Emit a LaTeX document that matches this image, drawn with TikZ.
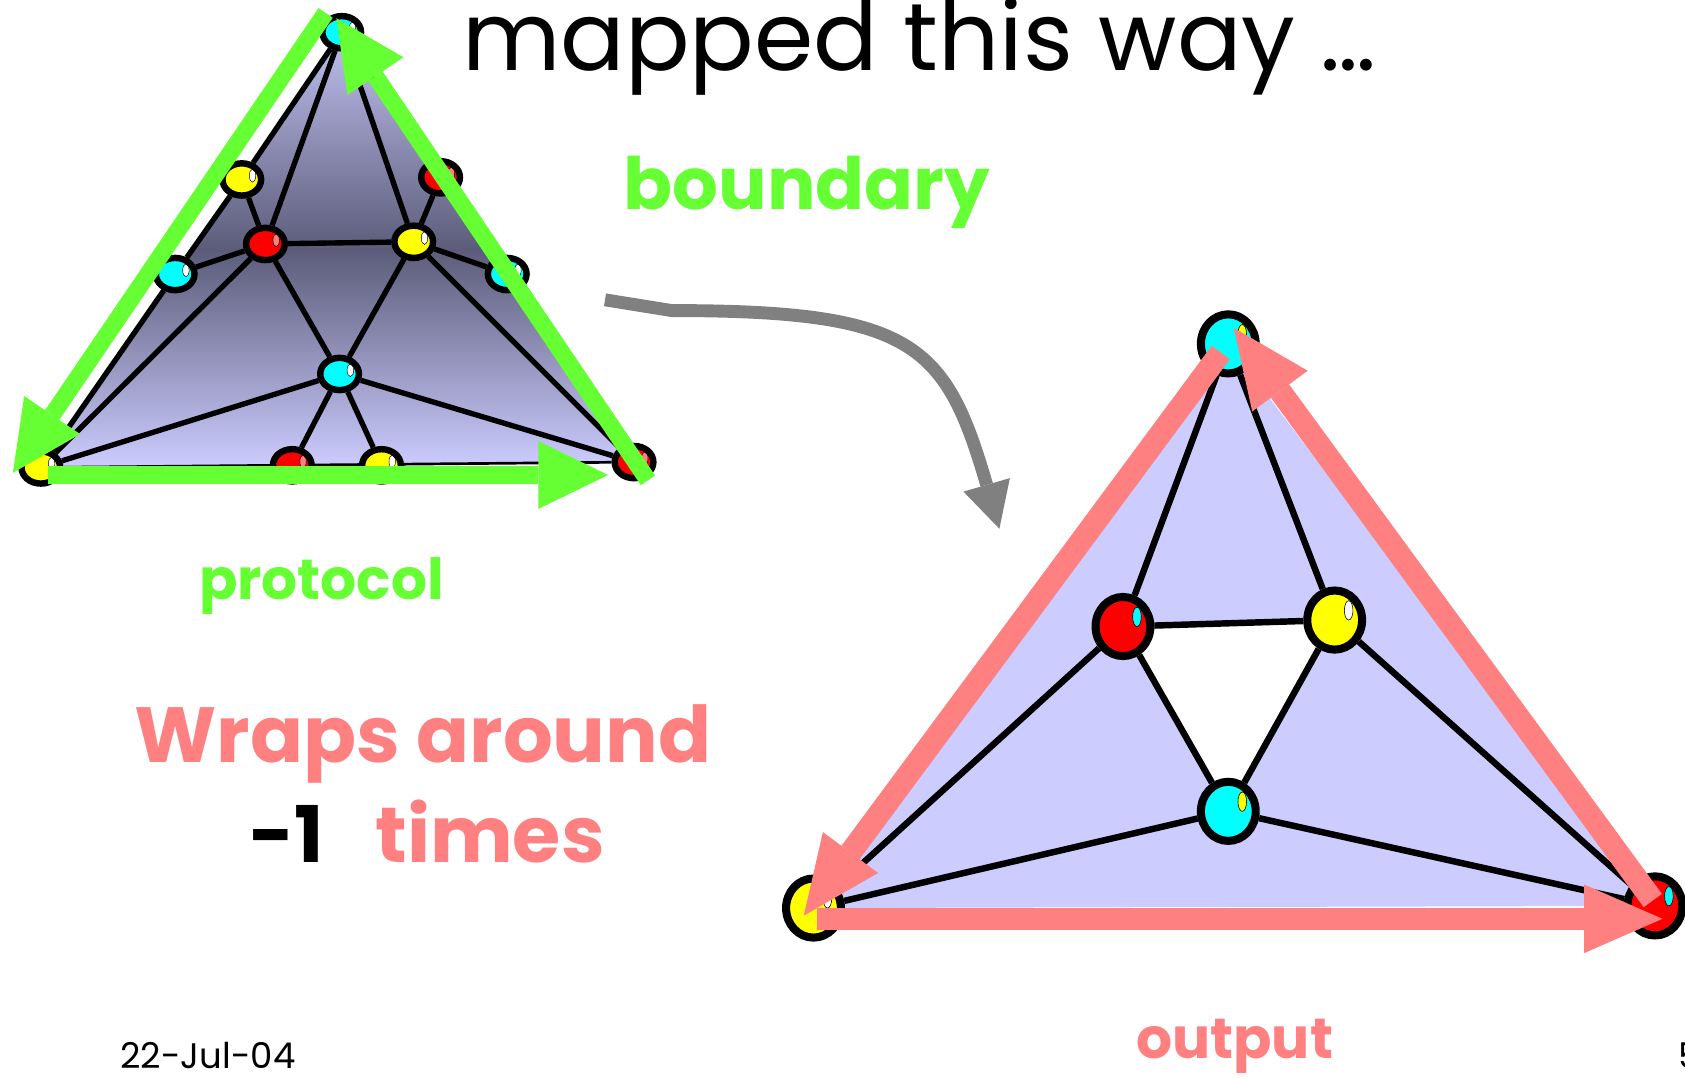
\documentclass[tikz,border=0pt]{standalone}
\usepackage{fontspec}
\setmainfont{Poppins}
\usetikzlibrary{shapes.geometric, arrows.meta, positioning, calc, backgrounds}
\definecolor{MapGreen}{RGB}{102,255,51}
\definecolor{MapPink}{RGB}{255,128,128}
\definecolor{MapLav}{RGB}{204,204,255}
\definecolor{MapLavTop}{RGB}{192,192,240}
\definecolor{MapSlate}{RGB}{92,92,122}
\definecolor{MapCyan}{RGB}{0,255,255}
\definecolor{MapYellow}{RGB}{255,255,0}
\definecolor{MapRed}{RGB}{255,0,0}
\definecolor{MapGray}{RGB}{128,128,128}

\begin{document}
\begin{tikzpicture}[
    x=0.2mm, y=-0.2mm,
    sball/.style 2 args={ellipse, draw=black, line width=1.2mm, fill=#1, minimum width=7.2mm, minimum height=6mm, inner sep=0pt,
      path picture={\draw[fill=#2, line width=0.25pt] ([xshift=2mm, yshift=0.7mm]path picture bounding box.center) ellipse [x radius=0.6mm, y radius=1.2mm];}},
    bball/.style 2 args={ellipse, draw=black, line width=1.5mm, fill=#1, minimum width=10.2mm, minimum height=11mm, inner sep=0pt,
      path picture={\draw[fill=#2, line width=0.3pt] ([xshift=2.6mm, yshift=1.8mm]path picture bounding box.center) ellipse [x radius=0.8mm, y radius=1.8mm];}},
    sedge/.style={draw=black, line width=1mm},
    bedge/.style={draw=black, line width=1.2mm},
    greenarrow/.style={-{Triangle[length=13mm, width=12.6mm, line width=0pt]}, draw=MapGreen, line width=3.2mm},
    pinkarrow/.style={-{Triangle[length=14.6mm, width=12.8mm, line width=0pt]}, draw=MapPink, line width=4.2mm},
    maparrow/.style={-{Triangle[length=8.5mm, width=9mm, line width=0pt]}, draw=MapGray, line width=2.4mm},
    headline/.style={font=\fontsize{50.6}{58}\selectfont, anchor=base west},
    bigword/.style={font=\bfseries\fontsize{41.4}{50}\selectfont, anchor=base west},
    smallword/.style={font=\bfseries\fontsize{30}{36}\selectfont, anchor=base west},
    footline/.style={font=\fontsize{18.8}{22}\selectfont, anchor=base west}
  ]
    \useasboundingbox (0,0) rectangle (1568,1003);

    % Protocol complex (small)
    \node[sball={MapCyan}{white}] (sT) at (318,30) {};
    \node[sball={MapYellow}{white}] (sLY) at (225,167) {};
    \node[sball={MapCyan}{white}] (sLC) at (163,255) {};
    \node[sball={MapRed}{MapPink}] (sRR) at (410,165) {};
    \node[sball={MapCyan}{white}] (sRC) at (472,255) {};
    \node[sball={MapRed}{MapPink}] (sR) at (247,227) {};
    \node[sball={MapYellow}{white}] (sY) at (385,225) {};
    \node[sball={MapCyan}{white}] (sC) at (316,348) {};
    \node[sball={MapRed}{MapPink}] (sBr) at (272,433) {};
    \node[sball={MapYellow}{white}] (sBy) at (355,433) {};
    \node[sball={MapYellow}{white}] (sBL) at (38,435) {};
    \node[sball={MapRed}{MapPink}] (sBR) at (590,430) {};

    % Output complex (big)
    \node[bball={MapCyan}{MapYellow}] (T) at (1143,320) {};
    \node[bball={MapRed}{MapCyan}] (R) at (1045,583) {};
    \node[bball={MapYellow}{white}] (Y) at (1242,577) {};
    \node[bball={MapCyan}{MapYellow}] (C) at (1143,755) {};
    \node[bball={MapYellow}{white}] (BL) at (757,845) {};
    \node[bball={MapRed}{MapCyan}] (BR) at (1540,843) {};

    \begin{scope}[on background layer]
      \shade[top color=MapLavTop, bottom color=MapLav, middle color=MapSlate] (sT.center) -- (sBL.center) -- (sBR.center) -- cycle;
      \fill[MapLav] (T.center) -- (BL.center) -- (BR.center) -- cycle;
      \fill[white] (R.center) -- (Y.center) -- (C.center) -- cycle;
      % small edges
      \draw[sedge] (sT) -- (sLY) -- (sLC) -- (sBL);
      \draw[sedge] (sT) -- (sRR) -- (sRC) -- (sBR);
      \draw[sedge, line width=0.5mm] (sBL) -- (sBR);
      \draw[sedge] (sT) -- (sR);
      \draw[sedge] (sT) -- (sY);
      \draw[sedge] (sLY) -- (sR);
      \draw[sedge] (sLC) -- (sR);
      \draw[sedge] (sRR) -- (sY);
      \draw[sedge] (sRC) -- (sY);
      \draw[sedge] (sR) -- (sY);
      \draw[sedge] (sR) -- (sC);
      \draw[sedge] (sY) -- (sC);
      \draw[sedge] (sR) -- (sBL);
      \draw[sedge] (sY) -- (sBR);
      \draw[sedge] (sC) -- (sBL);
      \draw[sedge] (sC) -- (sBR);
      \draw[sedge] (sC) -- (sBr);
      \draw[sedge] (sC) -- (sBy);
      % big edges
      \draw[bedge] (T) -- (R);
      \draw[bedge] (T) -- (Y);
      \draw[bedge] (R) -- (Y);
      \draw[bedge] (R) -- (C);
      \draw[bedge] (Y) -- (C);
      \draw[bedge] (R) -- (BL);
      \draw[bedge] (Y) -- (BR);
      \draw[bedge] (C) -- (BL);
      \draw[bedge] (C) -- (BR);
    \end{scope}

    % Boundary arrows
    \coordinate (g1) at (45,442);
    \coordinate (g2) at (566,442);
    \coordinate (g3) at (603,447);
    \coordinate (g4) at (313,17);
    \coordinate (g5) at (303,12);
    \coordinate (g6) at (12,440);
    \draw[greenarrow] (g1) -- (g2);
    \draw[greenarrow] (g3) -- (g4);
    \draw[greenarrow] (g5) -- (g6);

    \coordinate (p1) at (760,855);
    \coordinate (p2) at (1547,855);
    \coordinate (p3) at (1538,838);
    \coordinate (p4) at (1148,305);
    \coordinate (p5) at (1136,328);
    \coordinate (p6) at (748,852);
    \draw[pinkarrow] (p1) -- (p2);
    \draw[pinkarrow] (p3) -- (p4);
    \draw[pinkarrow] (p5) -- (p6);

    % Map arrow
    \coordinate (mapA) at (563,279);
    \coordinate (mapB) at (625,289);
    \coordinate (mapC) at (930,492);
    \draw[maparrow] (mapA) -- (mapB) .. controls (850,289) and (880,320) .. (mapC);

    % Texts
    \node[headline] (title) at (424,66) {mapped this way \dots};
    \node[bigword, text=MapGreen, font=\bfseries\fontsize{38.2}{46}\selectfont] (bnd) at (574,195) {boundary};
    \node[smallword, text=MapGreen] (prot) at (179,558) {protocol};
    \node[bigword, text=MapPink] (wrap) at (119,710) {Wraps around};
    \node[bigword] (times) at (226,803) {-1\hspace{9.5mm}\textcolor{MapPink}{times}};
    \node[smallword, text=MapPink] (outp) at (1051,985) {output};
    \node[footline] (date) at (106,994) {22-Jul-04};
    \node[footline] (page) at (1556,994) {5};
\end{tikzpicture}
\end{document}
